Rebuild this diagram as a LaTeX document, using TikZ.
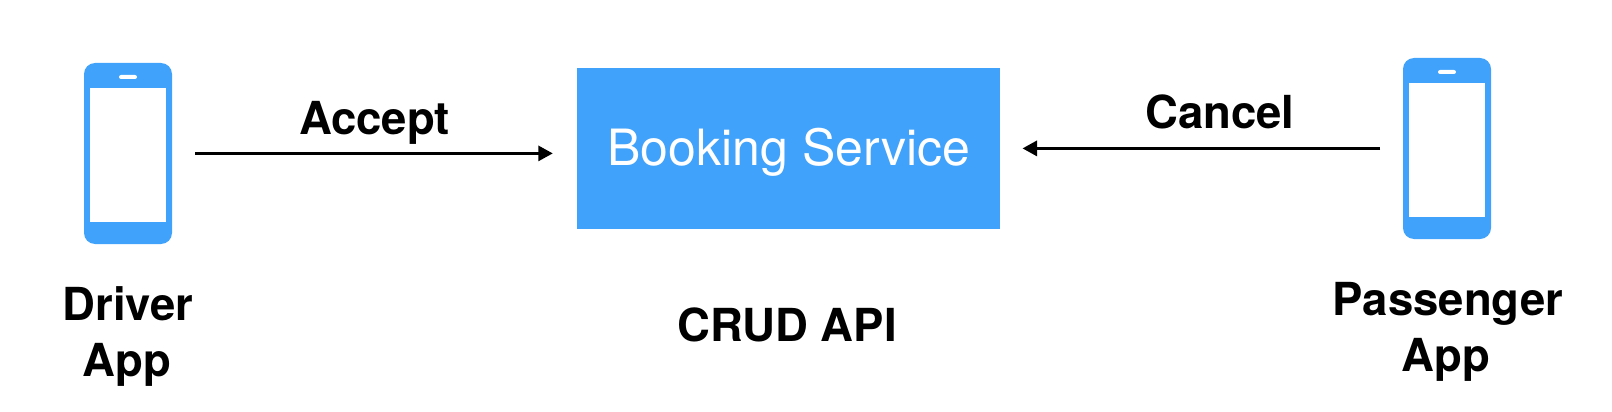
\documentclass[tikz,border=0pt]{standalone}
\usepackage{fontspec}
\setmainfont{TeX Gyre Heros}
\usetikzlibrary{arrows.meta}
\definecolor{bluefill}{HTML}{40A2FA}
\tikzset{x=1pt,y=-1pt,
  lbl/.style={font=\fontsize{45.5}{54}\selectfont\bfseries,text=black,anchor=base,inner sep=0pt},
  conn/.style={draw=black,line width=3pt,-{Triangle[length=14.5pt,width=15pt]}},
  phonebody/.style={fill=bluefill,rounded corners=11pt},
  phonescreen/.style={fill=white},
  phoneslot/.style={fill=white,rounded corners=2pt}}
\newcommand{\phoneicon}[2]{%
  \begin{scope}[shift={(#1,#2)}]
    \path[phonebody] (0,0) rectangle (88,181);
    \path[phonescreen] (6,25) rectangle (82,159);
    \path[phoneslot] (35,12) rectangle (53,16);
  \end{scope}}
\begin{document}
\begin{tikzpicture}
\useasboundingbox (0,0) rectangle (1612,412);
\phoneicon{84}{63}
\phoneicon{1403}{58}
\coordinate (dr) at (195,153.4);
\coordinate (pa) at (1380,148.4);
\node[fill=bluefill,minimum width=423pt,minimum height=161pt,inner sep=0pt] (bs) at (788.5,148.5) {};
\node[text=white,font=\fontsize{50}{58}\selectfont,anchor=base,inner sep=0pt] (bst) at (789,165) {Booking Service};
\coordinate (bl) at (552.8,153.4);
\coordinate (br) at (1022.5,148.4);
\draw[conn] (dr) -- (bl);
\draw[conn] (pa) -- (br);
\node[lbl] (acc) at (374.5,134) {Accept};
\node[lbl] (can) at (1220,128) {Cancel};
\node[lbl] (crud) at (787,341) {CRUD API};
\node[lbl] (d1) at (128,320) {Driver};
\node[lbl] (d2) at (127,376) {App};
\node[lbl] (p1) at (1448,315) {Passenger};
\node[lbl] (p2) at (1446,371) {App};
\end{tikzpicture}
\end{document}
